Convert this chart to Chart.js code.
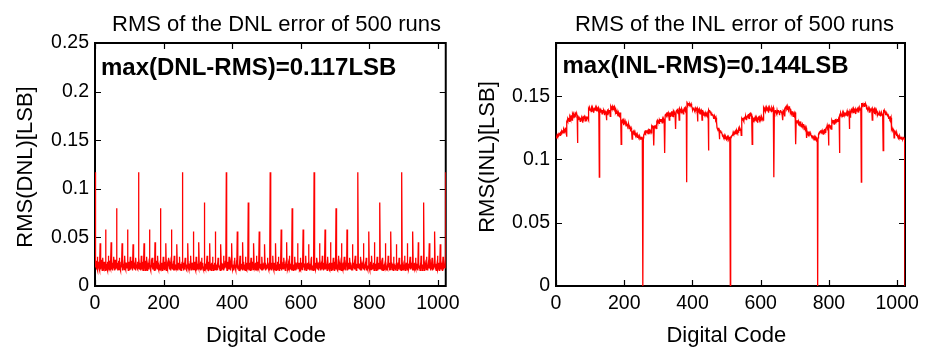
<!DOCTYPE html>
<html><head><meta charset="utf-8">
<script src="https://cdn.jsdelivr.net/npm/chart.js@4.4.1/dist/chart.umd.min.js"></script>
<style>
html,body{margin:0;padding:0;background:#fff;width:933px;height:347px;overflow:hidden;}
canvas{position:absolute;top:0;}
#c1{left:0;} #c2{left:466px;}
</style></head><body>
<canvas id="c1" width="466" height="347"></canvas>
<canvas id="c2" width="467" height="347"></canvas>
<script>
// Digital codes 0..1023 (categories)
const codes = Array.from({length: 1024}, (_, i) => i);

// RMS of DNL per code, in milli-LSB
const dnlMilliLSB = [
117,19,22,26,17,21,18,30,16,23,20,25,18,16,22,44,21,17,24,19,27,16,20,29,18,22,17,25,20,23,16,58,
20,17,23,18,25,16,21,31,19,22,16,26,20,18,23,45,17,21,19,24,16,22,18,30,23,16,20,27,19,17,22,80,
18,24,16,21,19,26,17,29,22,18,20,16,25,19,21,44,16,20,23,18,22,17,26,31,19,21,17,24,18,22,20,58,
21,16,19,25,17,23,20,30,17,22,18,21,26,16,19,43,20,18,24,17,19,23,16,29,22,19,21,18,25,17,20,117,
19,23,17,20,24,18,16,31,21,17,25,19,16,22,20,44,18,22,16,26,20,17,23,30,16,20,19,23,17,24,21,58,
22,18,20,16,23,19,25,29,17,21,19,24,18,16,22,45,23,16,21,18,26,20,17,31,19,24,17,21,16,22,18,80,
17,20,24,19,16,22,18,30,23,19,17,21,25,18,20,44,16,22,19,17,23,21,24,29,20,17,22,25,19,16,21,58,
20,22,17,23,19,26,16,31,18,16,21,19,22,17,24,43,21,19,16,24,18,20,17,30,17,23,20,16,21,19,25,117,
18,21,19,16,24,17,22,29,20,24,17,22,16,19,21,44,19,17,23,20,22,16,25,31,21,18,16,24,19,22,17,56,
23,17,20,25,18,21,16,30,16,19,22,17,23,20,18,45,22,20,17,21,16,25,19,29,18,22,24,19,17,20,16,86,
16,20,23,18,21,17,24,31,22,18,16,25,19,21,17,44,17,23,20,16,24,18,21,30,20,16,19,22,18,24,17,56,
21,19,16,22,17,24,20,29,19,23,20,17,21,16,25,43,24,16,18,23,20,17,22,31,16,21,23,18,26,19,20,117,
19,16,22,20,25,18,17,30,17,21,24,18,16,23,19,44,20,22,17,19,21,16,24,29,23,18,20,16,22,25,19,56,
17,23,19,21,16,20,22,31,24,17,18,23,20,19,16,45,18,21,25,17,22,20,16,30,21,17,16,24,19,23,18,86,
22,19,17,24,20,16,23,29,16,20,22,18,25,17,21,44,23,17,19,21,16,24,18,31,17,25,21,16,20,18,22,56,
18,22,20,17,23,19,16,30,21,16,23,20,17,24,18,43,19,24,16,22,18,17,20,29,24,19,17,21,23,16,20,117,
20,17,24,19,16,21,23,31,18,22,16,24,20,17,19,44,16,19,22,17,25,21,18,30,22,16,20,23,18,19,24,58,
16,21,18,23,20,25,17,29,23,19,21,16,18,22,20,45,20,23,17,19,16,24,22,31,18,20,23,17,21,16,19,80,
23,18,16,20,22,17,24,30,19,16,24,21,17,20,23,44,22,18,20,24,19,16,17,29,16,24,18,20,17,23,21,58,
19,24,21,16,18,23,17,31,16,20,18,23,24,17,21,43,17,21,23,16,20,19,25,30,23,17,21,19,16,22,18,117,
21,16,20,24,17,19,22,29,24,18,17,20,22,16,25,44,18,22,16,21,23,20,17,31,20,19,24,16,22,17,23,58,
17,20,23,18,21,16,25,30,20,23,19,17,16,24,18,45,21,16,24,19,17,22,20,29,19,22,16,25,20,18,17,80,
24,19,17,22,16,23,20,31,17,21,20,24,19,18,16,44,23,19,17,20,24,16,21,30,17,21,23,18,16,24,20,58,
16,22,20,17,24,18,21,29,22,17,24,19,21,16,20,43,16,24,20,18,22,17,23,31,21,18,16,23,20,19,24,117,
20,18,23,21,17,22,16,30,19,24,16,22,18,20,23,44,17,20,22,16,21,25,18,29,24,16,19,21,17,20,22,56,
18,23,16,20,25,17,19,31,21,17,22,18,20,24,16,45,24,18,19,23,16,20,22,30,16,22,20,17,24,18,21,86,
22,17,21,24,19,16,20,29,16,22,19,17,23,21,24,44,19,21,16,20,18,23,17,31,22,19,24,16,21,17,20,56,
19,21,24,17,20,23,16,30,23,18,21,20,16,19,22,43,21,16,23,19,24,17,20,29,18,24,17,22,19,16,23,117,
17,24,19,22,16,20,21,31,20,16,23,18,24,17,19,44,16,23,21,17,19,22,24,30,19,17,22,24,18,21,16,56,
23,16,21,19,24,18,20,29,18,21,17,23,19,22,16,45,23,19,18,21,16,24,17,31,20,23,16,19,22,18,24,86,
16,19,22,24,18,21,17,30,22,20,16,19,23,18,24,44,18,22,24,16,20,19,21,29,24,16,20,22,17,23,19,56,
21,23,18,16,22,20,24,31,17,19,24,21,16,23,20,43,20,17,22,24,18,16,23,30,17,21,19,23,20,24,18,117
];

// RMS of INL per code, in milli-LSB
const inlMilliLSB = [
117,118,117,119,118,119,120,118,119,120,121,120,119,121,122,120,121,122,121,123,122,121,123,124,123,124,122,124,125,123,124,118,
130,131,130,132,131,133,132,130,133,134,133,132,134,133,135,131,135,136,135,134,136,135,136,133,136,135,136,137,135,136,135,113,
132,133,132,131,133,132,133,130,132,133,131,132,133,132,134,129,133,132,133,134,132,133,132,130,133,134,132,133,134,133,132,131,
140,139,140,141,140,139,140,138,140,141,140,139,141,140,139,137,140,141,140,139,140,141,140,138,141,140,139,140,141,140,139,86,
138,139,138,137,139,138,139,136,138,139,137,138,139,138,137,135,138,137,138,136,131,137,138,135,138,139,138,137,138,139,138,134,
141,142,141,140,141,142,141,139,141,140,141,142,141,140,141,137,138,137,136,138,137,136,137,134,137,136,137,135,136,137,135,112,
131,130,131,129,130,131,130,127,130,129,128,130,129,128,129,126,128,127,128,126,127,128,127,124,126,125,126,124,125,124,123,116,
122,121,122,120,121,122,120,119,121,120,119,120,118,119,120,117,119,118,117,118,119,117,118,116,118,117,116,117,118,116,117,0,
117,119,120,122,121,122,123,121,122,123,122,121,123,122,123,120,122,123,124,122,123,122,123,121,125,126,125,126,127,125,126,111,
126,127,126,125,127,126,127,124,130,131,130,129,131,130,131,128,131,130,132,131,130,131,132,129,131,132,131,130,132,131,130,105,
135,136,135,136,137,135,136,134,136,137,136,135,131,136,137,134,137,136,137,138,136,137,136,134,137,138,137,136,137,136,137,124,
138,139,138,139,140,138,139,136,139,131,139,140,139,138,140,137,139,140,139,138,139,136,140,138,140,139,140,141,140,139,140,82,
144,143,144,143,144,144,144,142,144,143,144,143,144,143,142,141,140,139,140,141,140,139,140,138,140,139,140,139,140,141,139,130,
140,139,138,139,140,139,138,136,139,138,139,138,131,139,138,135,136,137,136,135,136,137,136,134,136,135,136,137,136,135,136,107,
139,138,139,138,137,138,137,135,137,136,135,136,135,134,135,132,134,133,134,133,132,133,132,130,125,124,125,123,124,125,123,116,
123,122,123,122,121,122,121,120,118,119,118,117,118,119,118,116,118,117,118,117,116,117,118,116,117,118,117,116,117,118,117,0,
117,118,119,118,119,120,119,121,120,121,120,122,121,122,121,120,122,121,123,122,121,122,123,121,124,123,124,125,124,123,124,119,
131,132,131,133,132,131,133,130,133,134,133,132,134,133,134,131,134,135,134,135,136,134,135,132,135,136,135,134,136,135,136,112,
132,133,132,133,131,132,133,130,133,132,133,132,131,133,132,129,132,133,132,131,133,132,133,130,132,133,132,134,133,132,133,131,
140,141,140,139,140,141,140,138,139,140,141,140,139,140,141,137,140,139,140,141,140,139,140,138,140,141,140,139,140,141,140,86,
138,137,138,139,138,137,138,136,139,138,137,138,139,138,137,135,137,138,139,138,137,138,137,135,138,131,138,137,138,139,138,134,
141,142,141,142,141,140,141,139,142,141,140,141,142,141,140,137,137,138,137,136,137,138,136,134,137,136,137,136,135,136,137,112,
130,131,130,129,131,130,129,127,130,129,130,128,129,130,128,126,128,127,128,127,126,127,128,124,126,125,126,125,124,125,123,117,
122,121,120,121,122,120,121,119,120,121,119,120,119,118,119,117,118,119,117,118,117,118,116,115,117,116,117,116,115,116,115,0,
117,118,120,121,122,121,122,123,122,121,123,122,123,122,121,120,123,122,123,124,122,123,122,121,125,126,125,127,126,125,126,111,
126,127,126,127,125,126,127,124,130,131,130,131,129,130,131,128,131,130,131,132,130,131,130,129,131,132,131,130,131,132,131,105,
135,136,135,137,136,135,136,134,136,137,136,135,137,136,137,134,136,137,136,135,137,138,136,134,137,136,137,138,124,137,136,133,
138,139,138,139,140,138,139,137,139,140,139,138,139,140,139,136,139,140,139,140,138,139,140,137,140,139,140,141,140,139,140,82,
144,144,144,143,144,144,144,142,144,144,144,143,144,143,142,140,140,139,140,141,139,140,139,137,140,139,140,139,140,139,140,131,
139,140,139,138,139,140,138,136,139,138,139,138,139,138,137,135,136,137,136,135,136,137,136,134,136,135,136,137,136,135,136,107,
139,138,139,137,138,137,138,135,137,136,137,135,136,135,134,132,134,133,134,132,133,132,133,130,124,125,124,123,124,123,124,117,
123,122,121,122,121,122,120,119,119,118,119,118,117,118,119,116,118,117,118,117,116,117,118,116,117,116,117,118,117,116,117,0
];

const xTicks = [0, 200, 400, 600, 800, 1000];
const dnlYTicks = [0, 0.05, 0.1, 0.15, 0.2, 0.25];
const inlYTicks = [0, 0.05, 0.1, 0.15];

const dnlTitle = 'RMS of the DNL error of 500 runs';
const inlTitle = 'RMS of the INL error of 500 runs';
const dnlNote = 'max(DNL-RMS)=0.117LSB';
const inlNote = 'max(INL-RMS)=0.144LSB';
const dnlYLabel = 'RMS(DNL)[LSB]';
const inlYLabel = 'RMS(INL)[LSB]';
const xLabel = 'Digital Code';

const FONT = '"Liberation Sans", Arial, Helvetica, sans-serif';

const matlabPlugin = {
  id: 'matlabAxes',
  beforeDatasetsDraw(chart, args, o) {
    const {ctx, chartArea: a, scales} = chart;
    const x = scales.x, y = scales.y;
    ctx.save();
    ctx.strokeStyle = '#000';
    ctx.lineWidth = 1.2;
    ctx.beginPath();
    o.xTicks.forEach(v => {
      const p = Math.round(x.getPixelForValue(v)) + 0.5;
      ctx.moveTo(p, a.bottom); ctx.lineTo(p, a.bottom - 6);
      ctx.moveTo(p, a.top); ctx.lineTo(p, a.top + 6);
    });
    o.yTicks.forEach(v => {
      const p = Math.round(y.getPixelForValue(v)) + 0.5;
      ctx.moveTo(a.left, p); ctx.lineTo(a.left + 6, p);
      ctx.moveTo(a.right, p); ctx.lineTo(a.right - 6, p);
    });
    ctx.stroke();
    ctx.lineWidth = 2;
    ctx.strokeRect(a.left, a.top, a.right - a.left, a.bottom - a.top);
    ctx.restore();
  },
  afterDraw(chart, args, o) {
    const ctx = chart.ctx;
    ctx.save();
    ctx.fillStyle = '#000';
    ctx.textBaseline = 'alphabetic';
    ctx.font = '22px ' + FONT;
    ctx.textAlign = 'center';
    ctx.fillText(o.title, o.titleX, o.titleY);
    ctx.fillText(o.xLabel, o.xLabelX, o.xLabelY);
    ctx.save();
    ctx.translate(o.yLabelX, o.yLabelY);
    ctx.rotate(-Math.PI / 2);
    ctx.fillText(o.yLabel, 0, 0);
    ctx.restore();
    ctx.font = 'bold 24px ' + FONT;
    ctx.textAlign = 'left';
    ctx.fillText(o.note, o.noteX, o.noteY);
    ctx.restore();
  }
};

function makeChart(id, values, yMax, yTicks, pad, yWidth, text) {
  const pts = codes.map((c, i) => ({x: c, y: values[i] / 1000}));
  return new Chart(document.getElementById(id), {
    type: 'line',
    data: {datasets: [{data: pts, borderColor: '#ff0000', borderWidth: 1.3, pointRadius: 0, fill: false, tension: 0}]},
    options: {
      responsive: false, animation: false, devicePixelRatio: 1,
      layout: {padding: pad},
      plugins: {legend: {display: false}, tooltip: {enabled: false}, title: {display: false},
        matlabAxes: Object.assign({xTicks: xTicks, yTicks: yTicks}, text)},
      scales: {
        x: {type: 'linear', min: 0, max: 1023,
          grid: {display: false, drawTicks: false}, border: {display: false},
          afterBuildTicks: s => { s.ticks = xTicks.map(v => ({value: v})); },
          afterFit: s => { s.height = 61; },
          ticks: {autoSkip: false, maxRotation: 0, padding: 6, color: '#000',
            font: {family: FONT, size: 19.5}, callback: v => String(v)}},
        y: {type: 'linear', min: 0, max: yMax,
          grid: {display: false, drawTicks: false}, border: {display: false},
          afterBuildTicks: s => { s.ticks = yTicks.map(v => ({value: v})); },
          afterFit: s => { s.width = yWidth; },
          ticks: {autoSkip: false, padding: 6, color: '#000',
            font: {family: FONT, size: 19.5}, callback: v => String(Math.round(v * 100) / 100)}}
      }
    },
    plugins: [matlabPlugin]
  });
}

makeChart('c1', dnlMilliLSB, 0.25, dnlYTicks, {top: 43, right: 20, left: 0, bottom: 0}, 95, {
  title: dnlTitle, titleX: 276.5, titleY: 31,
  xLabel: xLabel, xLabelX: 266, xLabelY: 341.5,
  yLabel: dnlYLabel, yLabelX: 32, yLabelY: 167,
  note: dnlNote, noteX: 101, noteY: 75
});
makeChart('c2', inlMilliLSB, 0.192, inlYTicks, {top: 43, right: 28, left: 0, bottom: 0}, 90, {
  title: inlTitle, titleX: 734.5 - 466, titleY: 31,
  xLabel: xLabel, xLabelX: 726.3 - 466, xLabelY: 341.5,
  yLabel: inlYLabel, yLabelX: 494 - 466, yLabelY: 157,
  note: inlNote, noteX: 562.5 - 466, noteY: 72.7
});
</script>
</body></html>
